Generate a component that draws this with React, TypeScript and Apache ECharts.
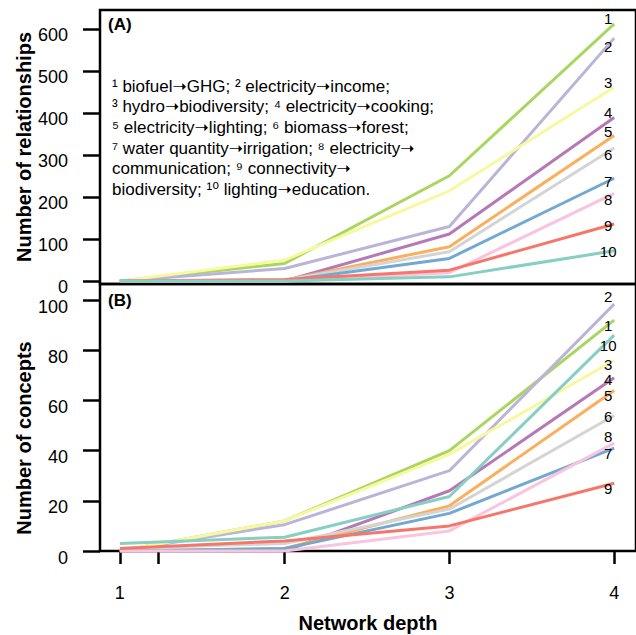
import React, { useEffect, useRef } from "react";
import * as echarts from "echarts";

// Network depth (x)
const depth = [1, 2, 3, 4];
const depthTicks = [1, 1.23, 2, 3, 4];
const depthLabels = [1, 2, 3, 4];

// Series identifiers (labels at line ends)
const seriesIds = ["1", "2", "3", "4", "5", "6", "7", "8", "9", "10"];

// (A) Number of relationships
const relBiofuelGHG = [0, 42, 251, 613];
const relElectricityIncome = [0, 30, 130, 579];
const relHydroBiodiversity = [0, 50, 215, 462];
const relElectricityCooking = [0, 0, 112, 390];
const relElectricityLighting = [0, 2, 82, 347];
const relBiomassForest = [0, 2, 70, 317];
const relWaterIrrigation = [0, 1, 54, 245];
const relElectricityCommunication = [0, 0, 20, 209];
const relConnectivityBiodiversity = [0, 4, 26, 136];
const relLightingEducation = [0, 0, 10, 72];

// (B) Number of concepts
const conBiofuelGHG = [0, 12, 40, 92];
const conElectricityIncome = [0, 10.5, 32, 98.4];
const conHydroBiodiversity = [0, 12, 38.5, 76];
const conElectricityCooking = [0, 0, 24, 69];
const conElectricityLighting = [0, 1, 18, 64];
const conBiomassForest = [1, 3, 16.7, 54];
const conWaterIrrigation = [0, 1, 15, 41];
const conElectricityCommunication = [0, 0, 8, 43];
const conConnectivityBiodiversity = [1, 4, 10, 27];
const conLightingEducation = [3, 5.5, 21.7, 86];

const yTicksA = [0, 100, 200, 300, 400, 500, 600];
const yTicksB = [0, 20, 40, 60, 80, 100];

const relationships = [
  relBiofuelGHG,
  relElectricityIncome,
  relHydroBiodiversity,
  relElectricityCooking,
  relElectricityLighting,
  relBiomassForest,
  relWaterIrrigation,
  relElectricityCommunication,
  relConnectivityBiodiversity,
  relLightingEducation,
];
const concepts = [
  conBiofuelGHG,
  conElectricityIncome,
  conHydroBiodiversity,
  conElectricityCooking,
  conElectricityLighting,
  conBiomassForest,
  conWaterIrrigation,
  conElectricityCommunication,
  conConnectivityBiodiversity,
  conLightingEducation,
];

const colors = [
  "#A9D65E",
  "#BAB5D8",
  "#F8F8A0",
  "#B579B6",
  "#FBAE5C",
  "#D4D4D4",
  "#73A9D0",
  "#F9C4DE",
  "#F7766A",
  "#86CFC2",
];

// label vertical nudges (px) for end-of-line ids
const labelDyA = [-5, 8, -5, -5, -4, 6, 3, 6, 2, 1];
const labelDyB = [5, -8, 4, 2, 5, 1, 5, -7, 5, 10];

const legendLines = [
  "¹ biofuel➝GHG; ² electricity➝income;",
  "³ hydro➝biodiversity; ⁴ electricity➝cooking;",
  "⁵ electricity➝lighting; ⁶ biomass➝forest;",
  "⁷ water quantity➝irrigation; ⁸ electricity➝",
  "communication; ⁹ connectivity➝",
  "biodiversity; ¹⁰ lighting➝education.",
];

const FONT = "'Liberation Sans', Arial, Helvetica, 'DejaVu Sans', sans-serif";

export default function App() {
  const ref = useRef<HTMLDivElement>(null);

  useEffect(() => {
    if (!ref.current) return;
    const chart = echarts.init(ref.current, undefined, { renderer: "svg" });

    const xMin = 0.8795;
    const xMax = 0.8795 + 540 / 166;

    const makeSeries = (
      data: number[][],
      gridIdx: number,
      dys: number[]
    ) =>
      data.map((vals, i) => ({
        type: "line",
        name: seriesIds[i],
        xAxisIndex: gridIdx,
        yAxisIndex: gridIdx,
        data: vals.map((v, j) => {
          const item: any = { value: [depth[j], v] };
          if (j === vals.length - 1) {
            item.label = {
              show: true,
              formatter: seriesIds[i],
              position: "inside",
              offset: [-6, dys[i]],
              color: "#000",
              fontSize: 15,
              lineHeight: 11,
              fontFamily: FONT,
            };
          }
          return item;
        }),
        symbol: "circle",
        symbolSize: 0,
        showSymbol: true,
        lineStyle: { color: colors[i], width: 3 },
        itemStyle: { color: colors[i] },
        z: 2,
        silent: true,
      }));

    const yAxisCommon = {
      type: "value",
      axisLine: { show: false },
      splitLine: { show: false },
      axisTick: {
        show: true,
        length: 17,
        lineStyle: { color: "#000", width: 2.5 },
      },
    };

    const option: any = {
      animation: false,
      grid: [
        {
          left: 100,
          top: 10,
          width: 540,
          height: 274,
          show: true,
          borderColor: "#000",
          borderWidth: 2.5,
          backgroundColor: "transparent",
        },
        {
          left: 100,
          top: 284,
          width: 540,
          height: 267,
          show: true,
          borderColor: "#000",
          borderWidth: 2.5,
          backgroundColor: "transparent",
        },
      ],
      xAxis: [
        {
          type: "value",
          gridIndex: 0,
          min: xMin,
          max: xMax,
          axisLine: { show: false },
          axisTick: { show: false },
          axisLabel: { show: false },
          splitLine: { show: false },
        },
        {
          type: "value",
          gridIndex: 1,
          min: xMin,
          max: xMax,
          axisLine: { show: false },
          splitLine: { show: false },
          axisTick: {
            show: true,
            length: 13,
            customValues: depthTicks,
            lineStyle: { color: "#000", width: 2.5 },
          },
          axisLabel: {
            show: true,
            customValues: depthLabels,
            margin: 33,
            color: "#000",
            fontSize: 18,
            fontFamily: FONT,
            formatter: (v: number) => String(Math.round(v)),
          },
        },
      ],
      yAxis: [
        {
          ...yAxisCommon,
          gridIndex: 0,
          min: -7,
          max: 646,
          axisTick: { ...yAxisCommon.axisTick, customValues: yTicksA },
          axisLabel: {
            customValues: yTicksA,
            margin: 32,
            color: "#000",
            fontSize: 18,
            fontFamily: FONT,
            verticalAlign: "top",
            lineHeight: 11,
          },
        },
        {
          ...yAxisCommon,
          gridIndex: 1,
          min: 0,
          max: 106.4,
          axisTick: { ...yAxisCommon.axisTick, customValues: yTicksB },
          axisLabel: {
            customValues: yTicksB,
            margin: 32,
            color: "#000",
            fontSize: 18,
            fontFamily: FONT,
            verticalAlign: "top",
            lineHeight: 13,
          },
        },
      ],
      series: [
        ...makeSeries(relationships, 0, labelDyA),
        ...makeSeries(concepts, 1, labelDyB),
      ],
      graphic: [
        {
          type: "text",
          left: 108,
          top: 16,
          style: {
            text: "(A)",
            font: `bold 17px ${FONT}`,
            fill: "#000",
          },
        },
        {
          type: "text",
          left: 108,
          top: 292,
          style: {
            text: "(B)",
            font: `bold 17px ${FONT}`,
            fill: "#000",
          },
        },
        {
          type: "text",
          x: 112,
          y: 76,
          style: {
            text: legendLines.join("\n"),
            font: `17px ${FONT}`,
            lineHeight: 20.6,
            fill: "#000",
            verticalAlign: "top",
          },
        },
        {
          type: "text",
          x: 24,
          y: 147,
          rotation: Math.PI / 2,
          style: {
            text: "Number of relationships",
            font: `bold 20px ${FONT}`,
            fill: "#000",
            align: "center",
            verticalAlign: "middle",
          },
        },
        {
          type: "text",
          x: 24,
          y: 438,
          rotation: Math.PI / 2,
          style: {
            text: "Number of concepts",
            font: `bold 20px ${FONT}`,
            fill: "#000",
            align: "center",
            verticalAlign: "middle",
          },
        },
        {
          type: "text",
          x: 368,
          y: 623,
          style: {
            text: "Network depth",
            font: `bold 20px ${FONT}`,
            fill: "#000",
            align: "center",
            verticalAlign: "middle",
          },
        },
      ],
    };

    chart.setOption(option);
    return () => chart.dispose();
  }, []);

  return (
    <div
      ref={ref}
      style={{ position: "absolute", left: 0, top: 0, width: 636, height: 635 }}
    />
  );
}
